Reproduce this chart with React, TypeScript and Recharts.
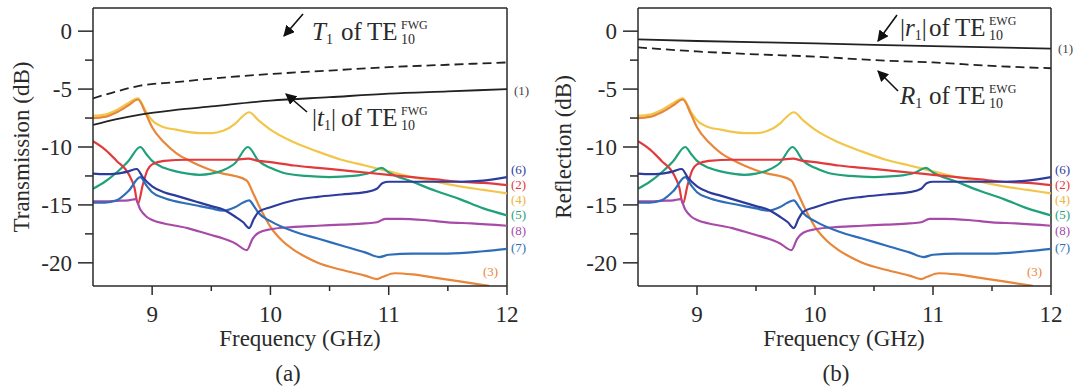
import React from 'react';
import { LineChart, Line, XAxis, YAxis, ReferenceLine } from 'recharts';

const X_TICKS = [9, 9.5, 10, 10.5, 11, 11.5, 12];
const Y_TICKS = [-20, -17.5, -15, -12.5, -10, -7.5, -5, -2.5, 0];

// fundamental TE10 curves, panel (a)
const T1_F = [8.5, 8.7, 8.9, 9.2, 9.5, 10, 10.5, 11, 11.5, 12];
const T1_DB = [-5.8, -5.2, -4.7, -4.4, -4.1, -3.7, -3.4, -3.1, -2.9, -2.7];
const t1_F = [8.5, 8.7, 8.9, 9.2, 9.5, 10, 10.5, 11, 11.5, 12];
const t1_DB = [-8.1, -7.6, -7.2, -6.8, -6.5, -6.0, -5.7, -5.4, -5.2, -5.0];

// fundamental TE10 curves, panel (b)
const r1_F = [8.5, 9, 10, 11, 12];
const r1_DB = [-0.7, -0.85, -1.05, -1.3, -1.5];
const R1_F = [8.5, 9, 9.5, 10, 10.5, 11, 11.5, 12];
const R1_DB = [-1.4, -1.75, -2.0, -2.2, -2.5, -2.7, -3.0, -3.2];

// higher order modes (2)..(8), same in both panels
const F2 = [8.5, 8.6, 8.7, 8.8, 8.85, 8.88, 8.92, 8.96, 9.0, 9.1, 9.3, 9.5, 9.7, 9.81, 9.9, 10.0, 10.2, 10.4, 10.6, 10.8, 11.0, 11.2, 11.4, 11.6, 11.8, 12];
const DB2 = [-9.5, -10.2, -11.2, -12.3, -13.5, -14.9, -13.3, -12.0, -11.5, -11.2, -11.1, -11.1, -11.1, -11.0, -11.2, -11.3, -11.6, -11.8, -12.0, -12.2, -12.4, -12.6, -12.8, -13.0, -13.1, -13.3];

const F3 = [8.5, 8.6, 8.7, 8.8, 8.88, 8.95, 9.0, 9.1, 9.2, 9.3, 9.4, 9.5, 9.6, 9.7, 9.8, 9.85, 9.9, 9.95, 10.0, 10.1, 10.2, 10.3, 10.4, 10.6, 10.8, 10.9, 10.95, 11.05, 11.2, 11.4, 11.6, 11.85];
const DB3 = [-7.5, -7.4, -7.0, -6.4, -5.9, -7.2, -8.3, -9.6, -10.5, -11.1, -11.6, -12.0, -12.3, -12.5, -12.9, -13.9, -15.0, -16.0, -16.9, -18.1, -18.9, -19.5, -20.0, -20.6, -21.1, -21.4, -21.2, -20.9, -21.0, -21.3, -21.6, -22.0];

const F4 = [8.5, 8.6, 8.7, 8.8, 8.88, 8.95, 9.0, 9.1, 9.2, 9.3, 9.4, 9.5, 9.6, 9.7, 9.75, 9.82, 9.9, 10.0, 10.2, 10.4, 10.6, 10.8, 11.0, 11.2, 11.4, 11.6, 11.8, 12];
const DB4 = [-7.3, -7.2, -6.8, -6.2, -5.8, -7.0, -7.7, -8.3, -8.5, -8.7, -8.8, -8.8, -8.6, -8.0, -7.5, -7.0, -7.7, -8.5, -9.6, -10.4, -11.1, -11.6, -12.1, -12.6, -13.0, -13.4, -13.7, -14.0];

const F5 = [8.5, 8.6, 8.7, 8.8, 8.9, 8.95, 9.0, 9.1, 9.2, 9.3, 9.4, 9.5, 9.6, 9.7, 9.81, 9.9, 10.0, 10.1, 10.3, 10.5, 10.7, 10.85, 10.94, 11.0, 11.2, 11.4, 11.6, 11.8, 12];
const DB5 = [-13.6, -13.0, -12.2, -11.2, -10.0, -10.6, -11.2, -11.8, -12.1, -12.3, -12.4, -12.3, -12.0, -11.4, -10.0, -11.2, -11.8, -12.2, -12.5, -12.6, -12.5, -12.2, -11.8, -12.2, -13.0, -13.8, -14.5, -15.3, -15.9];

const F6 = [8.5, 8.6, 8.7, 8.8, 8.87, 8.92, 9.0, 9.1, 9.2, 9.3, 9.4, 9.5, 9.6, 9.7, 9.77, 9.82, 9.86, 9.9, 10.0, 10.2, 10.4, 10.6, 10.8, 10.9, 10.95, 11.0, 11.3, 11.6, 11.8, 12];
const DB6 = [-12.3, -12.35, -12.3, -12.1, -11.9, -12.6, -13.4, -13.9, -14.2, -14.5, -14.8, -15.1, -15.4, -16.0, -16.5, -17.0, -16.2, -15.6, -15.2, -14.6, -14.3, -14.1, -13.9, -13.6, -13.1, -13.0, -13.0, -13.0, -12.9, -12.6];

const F7 = [8.5, 8.6, 8.7, 8.8, 8.9, 8.95, 9.0, 9.1, 9.2, 9.3, 9.4, 9.5, 9.6, 9.7, 9.77, 9.82, 9.86, 9.9, 10.0, 10.2, 10.4, 10.6, 10.8, 10.92, 11.0, 11.2, 11.5, 11.8, 12];
const DB7 = [-14.8, -14.8, -14.6, -13.8, -12.6, -13.3, -13.9, -14.4, -14.7, -14.9, -15.1, -15.3, -15.5, -15.2, -14.8, -14.6, -15.1, -15.7, -16.4, -17.3, -17.9, -18.5, -19.1, -19.5, -19.3, -19.2, -19.2, -19.0, -18.8];

const F8 = [8.5, 8.6, 8.7, 8.8, 8.86, 8.9, 8.95, 9.0, 9.1, 9.2, 9.3, 9.4, 9.5, 9.6, 9.7, 9.8, 9.85, 9.9, 10.0, 10.2, 10.4, 10.6, 10.8, 10.9, 10.97, 11.1, 11.3, 11.5, 11.7, 12];
const DB8 = [-14.7, -14.7, -14.65, -14.6, -14.5, -15.4, -16.0, -16.3, -16.6, -16.8, -17.0, -17.3, -17.6, -17.9, -18.3, -18.9, -17.9, -17.4, -17.1, -16.9, -16.8, -16.7, -16.6, -16.5, -16.2, -16.2, -16.3, -16.5, -16.6, -16.8];

const zip = (f: number[], v: number[]) => f.map((x, i) => ({ f: x, v: v[i] }));

const MODES = [
  { id: 4, color: '#f2c64a', pts: zip(F4, DB4) },
  { id: 3, color: '#e8863a', pts: zip(F3, DB3) },
  { id: 5, color: '#1fa27a', pts: zip(F5, DB5) },
  { id: 2, color: '#e13a3d', pts: zip(F2, DB2) },
  { id: 8, color: '#a84aa7', pts: zip(F8, DB8) },
  { id: 7, color: '#2e6db8', pts: zip(F7, DB7) },
  { id: 6, color: '#2d3c9c', pts: zip(F6, DB6) },
];

const FONT = '"Liberation Serif", "Times New Roman", serif';
const INK = '#2a2a2a';

const YTick = ({ x, y, payload }: any) => {
  const major = payload.value % 5 === 0;
  return (
    <g>
      <line x1={x} x2={x - (major ? 15 : 8)} y1={y} y2={y} stroke={INK} strokeWidth={1.5} />
      {major && (
        <text x={x - 21} y={y} dy="0.35em" textAnchor="end" fontFamily={FONT} fontSize={23} fill={INK}>
          {payload.value}
        </text>
      )}
    </g>
  );
};

const XTick = ({ x, y, payload }: any) => {
  const major = Number.isInteger(payload.value);
  return (
    <g>
      <line x1={x} x2={x} y1={y} y2={y + (major ? 9 : 5)} stroke={INK} strokeWidth={1.5} />
      {major && (
        <text x={x} y={y + 36} textAnchor="middle" fontFamily={FONT} fontSize={23} fill={INK}>
          {payload.value}
        </text>
      )}
    </g>
  );
};

function Panel({ solid, dashed, margin }: any) {
  return (
    <LineChart width={537} height={388} margin={margin}>
      <XAxis
        dataKey="f"
        type="number"
        domain={[8.5, 12]}
        ticks={X_TICKS}
        interval={0}
        height={40}
        tickSize={0}
        tickMargin={0}
        tickLine={false}
        tick={<XTick />}
        axisLine={{ stroke: INK, strokeWidth: 1.5 }}
        allowDataOverflow
      />
      <YAxis
        type="number"
        domain={[-22, 2]}
        ticks={Y_TICKS}
        interval={0}
        width={60}
        tickSize={0}
        tickMargin={0}
        tickLine={false}
        tick={<YTick />}
        axisLine={{ stroke: INK, strokeWidth: 1.5 }}
        allowDataOverflow
      />
      <ReferenceLine x={12} stroke={INK} strokeWidth={1.5} />
      <ReferenceLine y={2} stroke={INK} strokeWidth={1.5} />
      {MODES.map((m) => (
        <Line
          key={m.id}
          data={m.pts}
          dataKey="v"
          type="monotone"
          stroke={m.color}
          strokeWidth={2.2}
          dot={false}
          activeDot={false}
          isAnimationActive={false}
        />
      ))}
      <Line data={dashed} dataKey="v" type="monotone" stroke="#222" strokeWidth={1.8} strokeDasharray="9 5" dot={false} activeDot={false} isAnimationActive={false} />
      <Line data={solid} dataKey="v" type="monotone" stroke="#222" strokeWidth={1.8} dot={false} activeDot={false} isAnimationActive={false} />
    </LineChart>
  );
}

// "X of TE^sup_10" note, pieces placed by hand
function Note({ x, y, lead, sup }: any) {
  return (
    <g fontFamily={FONT} fill={INK}>
      <text x={x} y={y} fontSize={25}>{lead}</text>
      <text x={x + 29} y={y} fontSize={25}>of</text>
      <text x={x + 55} y={y} fontSize={25}>TE</text>
      <text x={x + 89} y={y - 11} fontSize={12}>{sup}</text>
      <text x={x + 89} y={y + 4} fontSize={14}>10</text>
    </g>
  );
}

const END_LABELS = [
  { t: '(6)', c: '#2d3c9c', y: 174 },
  { t: '(2)', c: '#e13a3d', y: 189 },
  { t: '(4)', c: '#e9b93a', y: 204 },
  { t: '(5)', c: '#1fa27a', y: 219 },
  { t: '(8)', c: '#a84aa7', y: 235 },
  { t: '(7)', c: '#2e6db8', y: 252 },
];

function Overlay() {
  const ends = (dx: number) => (
    <g fontFamily={FONT} fontSize={13}>
      <text x={514 + dx} y={dx ? 53 : 95} fill="#444">(1)</text>
      {END_LABELS.map((l) => (
        <text key={l.t} x={511 + dx} y={l.y} fill={l.c}>{l.t}</text>
      ))}
      <text x={483 + dx} y={276} fill="#e8863a">(3)</text>
    </g>
  );
  return (
    <svg width={1074} height={388} style={{ position: 'absolute', left: 0, top: 0, pointerEvents: 'none' }}>
      <defs>
        <marker id="head" viewBox="0 0 10 10" refX="9" refY="5" markerWidth="7" markerHeight="7" orient="auto">
          <path d="M0,0 L10,5 L0,10 z" fill="#111" />
        </marker>
      </defs>
      <g fontFamily={FONT} fontSize={23} fill={INK} textAnchor="middle">
        <text transform="translate(29,147) rotate(-90)">Transmission (dB)</text>
        <text transform="translate(571,147) rotate(-90)">Reflection (dB)</text>
        <text x={300} y={346}>Frequency (GHz)</text>
        <text x={844} y={346}>Frequency (GHz)</text>
        <text x={288} y={381}>(a)</text>
        <text x={836} y={381}>(b)</text>
      </g>
      {ends(0)}
      {ends(544)}
      <g stroke="#111" strokeWidth={1.6} markerEnd="url(#head)">
        <line x1={303} y1={14} x2={284} y2={36} />
        <line x1={307} y1={112} x2={286} y2={94} />
        <line x1={897} y1={15} x2={878} y2={41} />
        <line x1={898} y1={91} x2={878} y2={71} />
      </g>
      <Note
        x={312}
        y={40}
        sup="FWG"
        lead={<><tspan fontStyle="italic">T</tspan><tspan fontSize={14} dy={4}>1</tspan></>}
      />
      <Note
        x={312}
        y={126}
        sup="FWG"
        lead={<>|<tspan fontStyle="italic">t</tspan><tspan fontSize={14} dy={4}>1</tspan><tspan dy={-4}>|</tspan></>}
      />
      <Note
        x={900}
        y={36}
        sup="EWG"
        lead={<>|<tspan fontStyle="italic">r</tspan><tspan fontSize={14} dy={4}>1</tspan><tspan dy={-4}>|</tspan></>}
      />
      <Note
        x={900}
        y={104}
        sup="EWG"
        lead={<><tspan fontStyle="italic">R</tspan><tspan fontSize={14} dy={4}>1</tspan></>}
      />
    </svg>
  );
}

export default function App() {
  return (
    <div style={{ position: 'absolute', left: 0, top: 0, width: 1074, height: 388, background: '#fff' }}>
      <div style={{ position: 'absolute', left: 0, top: 0 }}>
        <Panel solid={zip(t1_F, t1_DB)} dashed={zip(T1_F, T1_DB)} margin={{ top: 8, right: 30, bottom: 62, left: 33 }} />
      </div>
      <div style={{ position: 'absolute', left: 537, top: 0 }}>
        <Panel solid={zip(r1_F, r1_DB)} dashed={zip(R1_F, R1_DB)} margin={{ top: 8, right: 23, bottom: 62, left: 41 }} />
      </div>
      <Overlay />
    </div>
  );
}
